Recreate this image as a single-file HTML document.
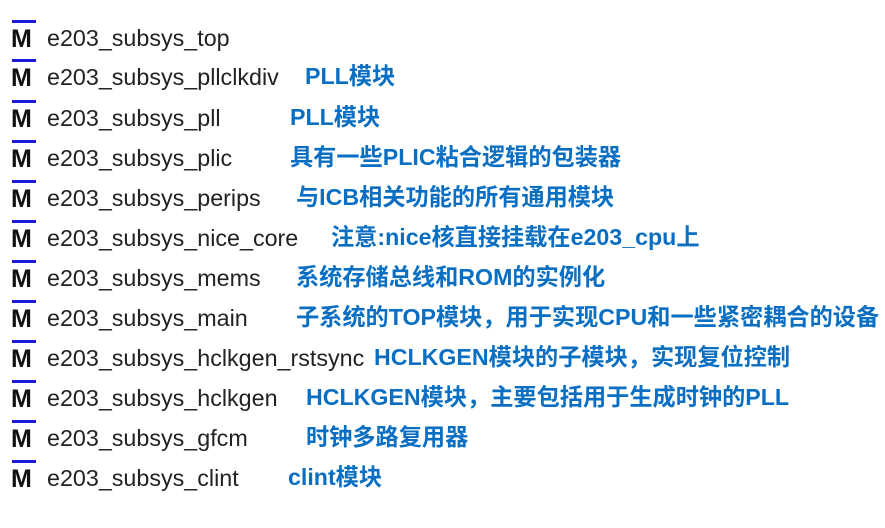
<!DOCTYPE html>
<html><head><meta charset="utf-8"><style>
body{margin:0;width:885px;height:528px;background:#fff;position:relative;overflow:hidden}
.r{position:absolute;left:0;height:40px;width:885px}
.ic{position:absolute;left:12px;top:-18px;width:24px;height:3px;background:#1a1adb}
.m{position:absolute;left:11px;top:-13px;font:bold 25px "Liberation Sans",sans-serif;color:#111;line-height:28px}
.n{position:absolute;left:47px;top:-14px;font:23.3px "Liberation Sans",sans-serif;color:#222;line-height:28px;white-space:nowrap}
.l{position:absolute;top:-15px;font:bold 23.2px "Liberation Sans","Noto Sans CJK SC",sans-serif;color:#0a6fc2;line-height:28px;white-space:nowrap}
</style></head><body>
<div class="r" style="top:38px"><div class="ic"></div><div class="m">M</div><div class="n">e203_subsys_top</div></div>
<div class="r" style="top:77px"><div class="ic"></div><div class="m">M</div><div class="n">e203_subsys_pllclkdiv</div><div class="l" style="left:305px">PLL模块</div></div>
<div class="r" style="top:118px"><div class="ic"></div><div class="m">M</div><div class="n">e203_subsys_pll</div><div class="l" style="left:290px">PLL模块</div></div>
<div class="r" style="top:158px"><div class="ic"></div><div class="m">M</div><div class="n">e203_subsys_plic</div><div class="l" style="left:290px">具有一些PLIC粘合逻辑的包装器</div></div>
<div class="r" style="top:198px"><div class="ic"></div><div class="m">M</div><div class="n">e203_subsys_perips</div><div class="l" style="left:296px">与ICB相关功能的所有通用模块</div></div>
<div class="r" style="top:238px"><div class="ic"></div><div class="m">M</div><div class="n">e203_subsys_nice_core</div><div class="l" style="left:331px">注意:nice核直接挂载在e203_cpu上</div></div>
<div class="r" style="top:278px"><div class="ic"></div><div class="m">M</div><div class="n">e203_subsys_mems</div><div class="l" style="left:296px">系统存储总线和ROM的实例化</div></div>
<div class="r" style="top:318px"><div class="ic"></div><div class="m">M</div><div class="n">e203_subsys_main</div><div class="l" style="left:296px">子系统的TOP模块，用于实现CPU和一些紧密耦合的设备</div></div>
<div class="r" style="top:358px"><div class="ic"></div><div class="m">M</div><div class="n">e203_subsys_hclkgen_rstsync</div><div class="l" style="left:374px">HCLKGEN模块的子模块，实现复位控制</div></div>
<div class="r" style="top:398px"><div class="ic"></div><div class="m">M</div><div class="n">e203_subsys_hclkgen</div><div class="l" style="left:306px">HCLKGEN模块，主要包括用于生成时钟的PLL</div></div>
<div class="r" style="top:438px"><div class="ic"></div><div class="m">M</div><div class="n">e203_subsys_gfcm</div><div class="l" style="left:306px">时钟多路复用器</div></div>
<div class="r" style="top:478px"><div class="ic"></div><div class="m">M</div><div class="n">e203_subsys_clint</div><div class="l" style="left:288px">clint模块</div></div>
</body></html>
